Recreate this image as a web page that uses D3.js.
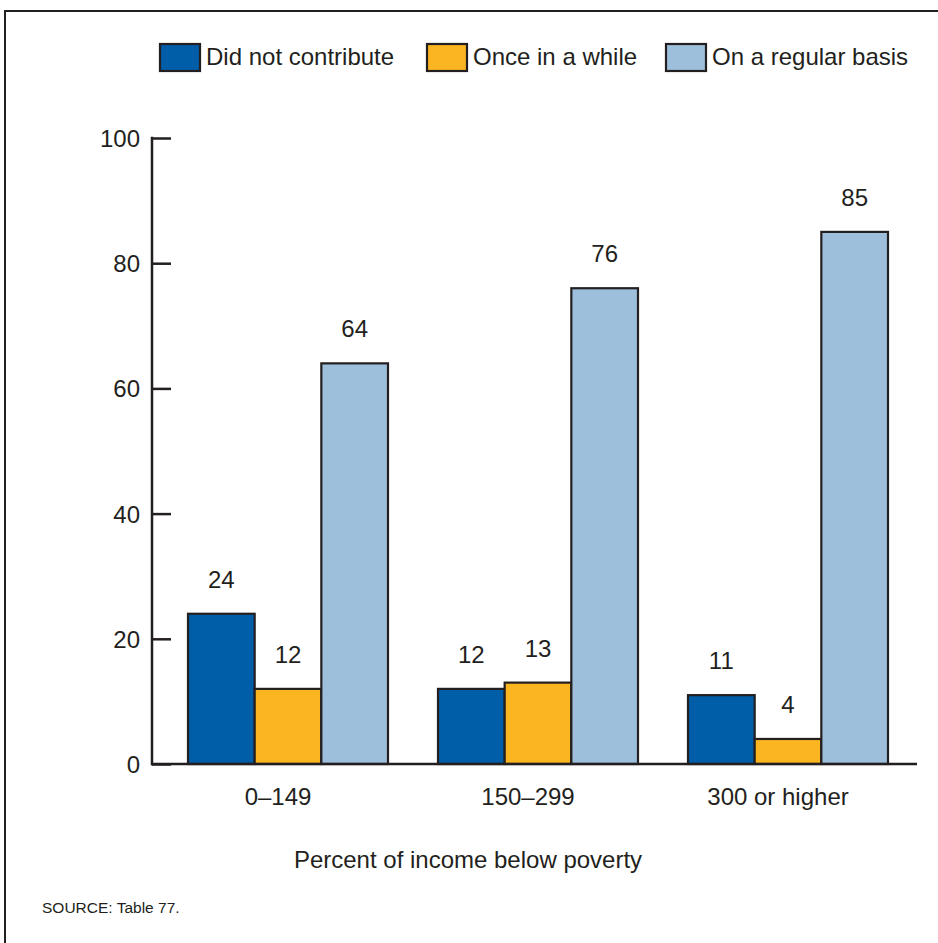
<!DOCTYPE html>
<html><head><meta charset="utf-8">
<script src="https://cdn.jsdelivr.net/npm/d3@7"></script>
<style>
body{margin:0;background:#fff;}
svg{display:block;font-family:"Liberation Sans",Arial,Helvetica,sans-serif;}
</style></head>
<body>
<script>
const categories = ["0\u2013149", "150\u2013299", "300 or higher"];
const seriesNames = ["Did not contribute", "Once in a while", "On a regular basis"];
const didNotContribute = [24, 12, 11];
const onceInAWhile = [12, 13, 4];
const regularBasis = [64, 76, 85];
const yTicks = [0, 20, 40, 60, 80, 100];
const colors = ["#005EA8", "#FBB520", "#9DBFDC"];
const xTitle = "Percent of income below poverty";
const source = "SOURCE: Table 77.";

const series = [didNotContribute, onceInAWhile, regularBasis];
const W = 938, H = 943;
const svg = d3.select("body").append("svg").attr("width", W).attr("height", H);
const ink = "#231F20";
const fs = 24;

// frame
svg.append("rect").attr("x", 5).attr("y", 11).attr("width", 950).attr("height", 950)
  .attr("fill", "none").attr("stroke", ink).attr("stroke-width", 2);

const y = d3.scaleLinear().domain([0, 100]).range([764, 138]);
const x0 = d3.scaleBand().domain(categories).range([163, 913]).paddingInner(0.2).paddingOuter(0.1);
const x1 = d3.scaleBand().domain(seriesNames).range([0, x0.bandwidth()]);

// y axis
const yAxis = svg.append("g").attr("transform", "translate(152,0)")
  .call(d3.axisRight(y).tickValues(yTicks).tickSize(19).tickFormat(d3.format("d")));
yAxis.select(".domain").remove();
yAxis.selectAll(".tick line").attr("stroke", ink).attr("stroke-width", 2.5);
yAxis.selectAll(".tick text").attr("x", -12).attr("text-anchor", "end")
  .attr("font-size", fs).attr("fill", ink).attr("dy", "0.35em");
svg.append("line").attr("x1", 152).attr("x2", 152).attr("y1", y(100) - 1.2).attr("y2", y(0) + 1.2)
  .attr("stroke", ink).attr("stroke-width", 2.5);

// bars
const groups = svg.append("g").selectAll("g").data(categories).join("g")
  .attr("transform", d => `translate(${x0(d)},0)`);
groups.each(function(cat, ci) {
  const g = d3.select(this);
  seriesNames.forEach((s, si) => {
    const v = series[si][ci];
    g.append("rect").attr("x", x1(s)).attr("y", y(v)).attr("width", x1.bandwidth())
      .attr("height", y(0) - y(v)).attr("fill", colors[si]).attr("stroke", ink).attr("stroke-width", 2.2);
    g.append("text").attr("x", x1(s) + x1.bandwidth() / 2).attr("y", y(v) - 26)
      .attr("text-anchor", "middle").attr("font-size", fs).attr("fill", ink).text(v);
  });
});

// x axis line
svg.append("line").attr("x1", 151).attr("x2", 917).attr("y1", y(0)).attr("y2", y(0))
  .attr("stroke", ink).attr("stroke-width", 2.5);

// category labels
const xAxis = svg.append("g").attr("transform", `translate(-10,${y(0)})`)
  .call(d3.axisBottom(x0).tickSize(0));
xAxis.select(".domain").remove();
xAxis.selectAll(".tick text").attr("font-size", fs).attr("fill", ink).attr("dy", 0).attr("y", 41);

// x title
svg.append("text").attr("x", 468).attr("y", 868).attr("text-anchor", "middle")
  .attr("font-size", fs).attr("fill", ink).text(xTitle);

// source
svg.append("text").attr("x", 42).attr("y", 913).attr("font-size", 15.5).attr("fill", ink).text(source);

// legend
const legendX = [160, 427, 666];
seriesNames.forEach((s, i) => {
  svg.append("rect").attr("x", legendX[i]).attr("y", 44).attr("width", 40).attr("height", 27)
    .attr("fill", colors[i]).attr("stroke", ink).attr("stroke-width", 2.2);
  svg.append("text").attr("x", legendX[i] + 46).attr("y", 65).attr("font-size", fs)
    .attr("fill", ink).text(s);
});
</script>
</body></html>
